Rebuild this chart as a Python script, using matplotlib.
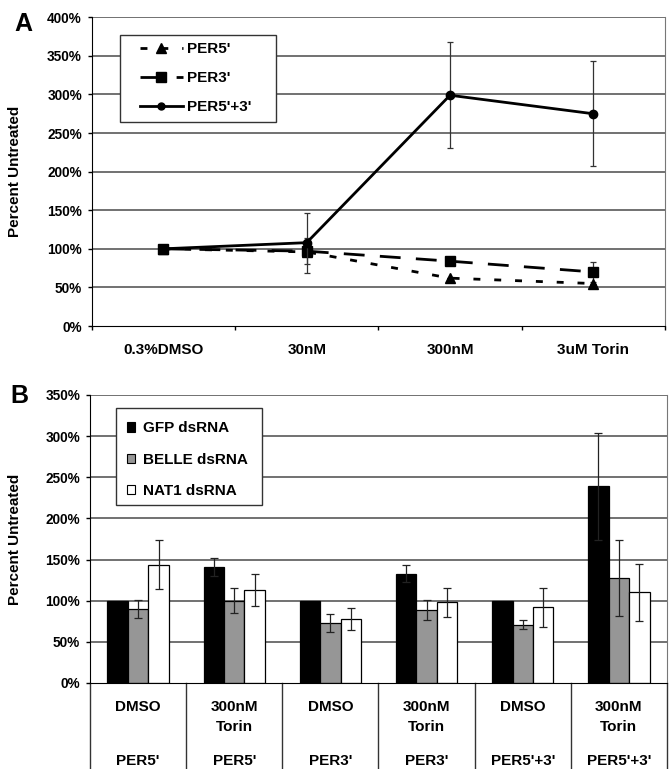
import matplotlib
matplotlib.use("Agg")
import matplotlib.pyplot as plt
from matplotlib.lines import Line2D
from matplotlib.patches import Patch, Rectangle
import matplotlib.transforms as mtransforms
import numpy as np

plt.rcParams['font.family'] = ['Liberation Sans', 'DejaVu Sans']
plt.rcParams['font.weight'] = 'bold'
plt.rcParams['axes.labelweight'] = 'bold'

# ---------------- Panel A data ----------------
a_categories = ["0.3%DMSO", "30nM", "300nM", "3uM Torin"]
a_per5 = [100, 96, 62, 55]
a_per5_err = [0, 0, 0, 0]
a_per3 = [100, 97, 84, 70]
a_per3_err = [0, 17, 0, 13]
a_per53 = [100, 108, 299, 275]
a_per53_err = [0, 39, 69, 68]
a_yticks = [0, 50, 100, 150, 200, 250, 300, 350, 400]

# ---------------- Panel B data ----------------
b_treatments = ["DMSO", "300nM\nTorin", "DMSO", "300nM\nTorin", "DMSO", "300nM\nTorin"]
b_reporters = ["PER5'", "PER5'", "PER3'", "PER3'", "PER5'+3'", "PER5'+3'"]
b_gfp = [100, 141, 100, 133, 100, 239]
b_gfp_err = [0, 11, 0, 10, 0, 65]
b_belle = [90, 100, 73, 89, 71, 128]
b_belle_err = [11, 15, 11, 12, 5, 46]
b_nat1 = [144, 113, 78, 98, 92, 110]
b_nat1_err = [30, 20, 13, 18, 24, 35]
b_series = ["GFP dsRNA", "BELLE dsRNA", "NAT1 dsRNA"]
b_yticks = [0, 50, 100, 150, 200, 250, 300, 350]

W, H = 670, 769
fig = plt.figure(figsize=(W / 100, H / 100), dpi=100)

def frac_box(l, r, top, bottom):
    return [l / W, 1 - bottom / H, (r - l) / W, (bottom - top) / H]

grid_color = '#4a4a4a'
tick_fs = 9.8
cat_fs = 11
leg_fs = 11
ylab_fs = 11

# ================= Panel A =================
axA = fig.add_axes(frac_box(91.7, 665, 17.3, 326))
x = np.arange(len(a_categories))
axA.set_xlim(-0.5, len(a_categories) - 0.5)
axA.set_ylim(0, 400)
for yv in a_yticks[1:]:
    axA.axhline(yv, color=grid_color, lw=1.1, zorder=0)

axA.errorbar(x, a_per53, yerr=a_per53_err, color='black', lw=2.0,
             marker='o', markersize=6, ecolor='#333333', elinewidth=0.9,
             capsize=2.3, capthick=0.9, zorder=4)
lA3 = axA.errorbar(x, a_per3, yerr=a_per3_err, color='black', lw=2.0,
                   marker='s', markersize=7, ecolor='#333333', elinewidth=0.9,
                   capsize=2.3, capthick=0.9, zorder=3)
lA3[0].set_dashes([7.5, 5.5])
lA5 = axA.errorbar(x, a_per5, yerr=a_per5_err, color='black', lw=2.0,
                   marker='^', markersize=6.5, ecolor='#333333', elinewidth=0.9,
                   capsize=2.3, capthick=0.9, zorder=3)
lA5[0].set_dashes([2.5, 5])

axA.set_yticks(a_yticks)
axA.set_yticklabels([f"{v}%" for v in a_yticks], fontsize=tick_fs)
axA.set_xticks(np.arange(-0.5, len(a_categories), 1.0))
axA.set_xticklabels([])
axA.set_xticks(x, minor=True)
axA.set_xticklabels(a_categories, minor=True, fontsize=cat_fs)
axA.tick_params(axis='x', which='major', direction='out', length=3, width=1)
axA.tick_params(axis='x', which='minor', length=0, pad=12)
axA.tick_params(axis='y', direction='out', length=3, width=1, pad=4)
axA.spines['top'].set_visible(False)
axA.spines['right'].set_color('#777777')
axA.set_ylabel("Percent Untreated", fontsize=ylab_fs, fontweight='bold')
axA.yaxis.set_label_coords(-0.1216, 0.5)

axA.add_patch(Rectangle((0.0494, 0.661), 0.272, 0.282, transform=axA.transAxes,
                        facecolor='white', edgecolor='#333333', lw=1.0, zorder=5))
hA5 = Line2D([], [], color='black', lw=2.0, marker='^', markersize=6.5, dashes=[2.5, 5])
hA3 = Line2D([], [], color='black', lw=2.0, marker='s', markersize=7, dashes=[7.5, 5.5])
hA53 = Line2D([], [], color='black', lw=2.0, marker='o', markersize=5)
legA = axA.legend([hA5, hA3, hA53], ["PER5'", "PER3'", "PER5'+3'"],
                  loc='upper left', bbox_to_anchor=(0.084, 0.919),
                  fontsize=leg_fs, frameon=False, handlelength=2.8,
                  handletextpad=0.26, labelspacing=0.98, borderpad=0,
                  borderaxespad=0)
legA.set_zorder(6)

fig.text(14 / W, 1 - 24 / H, "A", fontsize=18, fontweight='bold', va='center', ha='left')

# ================= Panel B =================
axB = fig.add_axes(frac_box(90, 667, 395, 683))
n = len(b_gfp)
xb = np.arange(n)
axB.set_xlim(-0.5, n - 0.5)
axB.set_ylim(0, 350)
for yv in b_yticks[1:]:
    axB.axhline(yv, color=grid_color, lw=1.1, zorder=0)

bw = 0.213
colors = ['black', '#969696', 'white']
vals = [b_gfp, b_belle, b_nat1]
errs = [b_gfp_err, b_belle_err, b_nat1_err]
for i, (v, e, c) in enumerate(zip(vals, errs, colors)):
    pos = xb + (i - 1) * bw
    axB.bar(pos, v, width=bw, color=c, edgecolor='black', linewidth=0.9, zorder=2)
    mask = np.array(e) > 0
    axB.errorbar(pos[mask], np.array(v)[mask], yerr=np.array(e)[mask], fmt='none',
                 ecolor='#222222', elinewidth=0.9, capsize=2.6, capthick=0.9, zorder=3)

axB.set_yticks(b_yticks)
axB.set_yticklabels([f"{v}%" for v in b_yticks], fontsize=tick_fs)
axB.set_xticks([])
axB.tick_params(axis='y', direction='out', length=3, width=1, pad=4)
axB.spines['top'].set_visible(False)
axB.spines['right'].set_color('#777777')
axB.set_ylabel("Percent Untreated", fontsize=ylab_fs, fontweight='bold')
axB.yaxis.set_label_coords(-0.118, 0.5)

# category table below axis
trans = mtransforms.blended_transform_factory(axB.transData, axB.transAxes)
for b in np.arange(-0.5, n, 1.0):
    axB.plot([b, b], [0, -0.31], color='#333333', lw=1.0, transform=trans,
             clip_on=False, zorder=1)
for i, (t, r) in enumerate(zip(b_treatments, b_reporters)):
    lines = t.split("\n")
    axB.text(xb[i], -0.0833, lines[0], transform=trans, ha='center', va='center', fontsize=cat_fs)
    if len(lines) > 1:
        axB.text(xb[i], -0.153, lines[1], transform=trans, ha='center', va='center', fontsize=cat_fs)
    axB.text(xb[i], -0.271, r, transform=trans, ha='center', va='center', fontsize=cat_fs)

axB.add_patch(Rectangle((0.045, 0.618), 0.253, 0.337, transform=axB.transAxes,
                        facecolor='white', edgecolor='#333333', lw=1.0, zorder=5))
hB = [Patch(facecolor=c, edgecolor='black', linewidth=0.8) for c in colors]
legB = axB.legend(hB, b_series, loc='upper left', bbox_to_anchor=(0.064, 0.908),
                  fontsize=leg_fs, frameon=False, handlelength=0.55, handleheight=0.55,
                  handletextpad=0.5, labelspacing=1.13, borderpad=0,
                  borderaxespad=0)
legB.set_zorder(6)

fig.text(10 / W, 1 - 396 / H, "B", fontsize=18, fontweight='bold', va='center', ha='left')

fig.savefig("out.png", dpi=100)
